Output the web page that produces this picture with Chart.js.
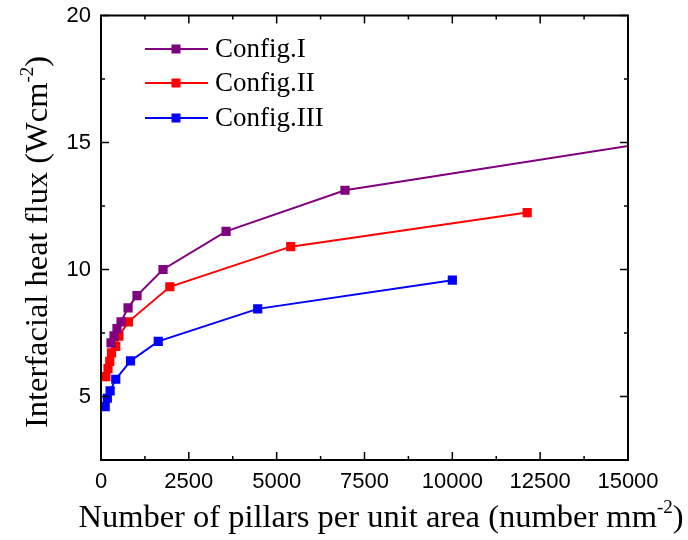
<!DOCTYPE html>
<html>
<head>
<meta charset="utf-8">
<script src="https://cdn.jsdelivr.net/npm/chart.js@4.4.1/dist/chart.umd.min.js"></script>
<style>
  html, body { margin: 0; padding: 0; background: #fff; }
  #wrap { width: 688px; height: 540px; }
</style>
</head>
<body>
<div id="wrap"><canvas id="flux-chart" width="688" height="540"></canvas></div>
<script>
// pillar density (number mm^-2) vs interfacial heat flux (W cm^-2)
const config1X = [285, 370, 455, 570, 770, 1025, 1765, 3560, 6945, 16000];
const config1Y = [7.11, 7.39, 7.67, 7.94, 8.49, 8.97, 10.0, 11.5, 13.12, 15.08];
const config2X = [140, 200, 250, 300, 420, 510, 780, 1960, 5400, 12130];
const config2Y = [5.78, 6.1, 6.38, 6.72, 6.97, 7.38, 7.94, 9.32, 10.9, 12.24];
const config3X = [120, 180, 260, 420, 840, 1630, 4460, 10000];
const config3Y = [4.6, 4.93, 5.22, 5.68, 6.4, 7.17, 8.45, 9.58];

const seriesNames = ['Config.I', 'Config.II', 'Config.III'];
const seriesColors = ['#800080', '#ff0000', '#0000ff'];

const xTicks = [0, 2500, 5000, 7500, 10000, 12500, 15000];
const yTicks = [5, 10, 15, 20];
const xMinor = [1250, 3750, 6250, 8750, 11250, 13750];
const yMinor = [7.5, 12.5, 17.5];

const toPoints = (xs, ys) => xs.map((x, i) => ({ x: x, y: ys[i] }));

// frame with inward ticks, legend and axis titles
const framePlugin = {
    id: 'frame',
    afterDraw(chart) {
        const ctx = chart.ctx;
        const a = chart.chartArea;
        const xs = chart.scales.x, ys = chart.scales.y;
        ctx.save();
        ctx.strokeStyle = '#000';
        ctx.lineWidth = 2;
        ctx.strokeRect(a.left, a.top, a.right - a.left, a.bottom - a.top);

        ctx.lineWidth = 1.5;
        ctx.beginPath();
        const tickX = (v, len) => {
            const px = xs.getPixelForValue(v);
            ctx.moveTo(px, a.bottom); ctx.lineTo(px, a.bottom - len);
            ctx.moveTo(px, a.top); ctx.lineTo(px, a.top + len);
        };
        const tickY = (v, len) => {
            const py = ys.getPixelForValue(v);
            ctx.moveTo(a.left, py); ctx.lineTo(a.left + len, py);
            ctx.moveTo(a.right, py); ctx.lineTo(a.right - len, py);
        };
        xTicks.forEach(v => tickX(v, 8));
        xMinor.forEach(v => tickX(v, 4));
        yTicks.forEach(v => tickY(v, 8));
        yMinor.forEach(v => tickY(v, 4));
        ctx.stroke();

        // legend
        const rows = [49, 83, 118];
        chart.data.datasets.forEach((ds, i) => {
            const y = rows[i];
            ctx.strokeStyle = ds.borderColor;
            ctx.lineWidth = 2;
            ctx.beginPath();
            ctx.moveTo(145, y); ctx.lineTo(208, y);
            ctx.stroke();
            ctx.fillStyle = ds.borderColor;
            ctx.fillRect(176 - 4.5, y - 4.5, 9, 9);
            ctx.fillStyle = '#000';
            ctx.font = '27px "Liberation Serif", "Times New Roman", serif';
            ctx.textBaseline = 'middle';
            ctx.textAlign = 'left';
            ctx.fillText(ds.label, 215, y + 1);
        });

        // axis titles with superscripts
        const main = '32.5px "Liberation Serif", "Times New Roman", serif';
        const sup = '19px "Liberation Serif", "Times New Roman", serif';
        const drawTitle = (parts, cx, cy, rot) => {
            ctx.save();
            ctx.translate(cx, cy);
            ctx.rotate(rot);
            let total = 0;
            parts.forEach(p => { ctx.font = p.sup ? sup : main; total += ctx.measureText(p.t).width; });
            let x = -total / 2;
            ctx.fillStyle = '#000';
            ctx.textBaseline = 'alphabetic';
            ctx.textAlign = 'left';
            parts.forEach(p => {
                ctx.font = p.sup ? sup : main;
                ctx.fillText(p.t, x, p.sup ? -14 : 0);
                x += ctx.measureText(p.t).width;
            });
            ctx.restore();
        };
        drawTitle([{ t: 'Number of pillars per unit area (number mm' }, { t: '-2', sup: true }, { t: ')' }], 381, 527, 0);
        drawTitle([{ t: 'Interfacial heat flux (Wcm' }, { t: '-2', sup: true }, { t: ')' }], 47, 242, -Math.PI / 2);
        ctx.restore();
    }
};

function init() {
    const ctx = document.getElementById('flux-chart').getContext('2d');
    const tickFont = { family: '"Liberation Sans", Arial, sans-serif', size: 22 };
    window.fluxChart = new Chart(ctx, {
        type: 'line',
        data: {
            datasets: [
                { label: seriesNames[0], data: toPoints(config1X, config1Y) },
                { label: seriesNames[1], data: toPoints(config2X, config2Y) },
                { label: seriesNames[2], data: toPoints(config3X, config3Y) }
            ].map((ds, i) => Object.assign(ds, {
                borderColor: seriesColors[i],
                backgroundColor: seriesColors[i],
                borderWidth: 2,
                pointStyle: 'rect',
                pointRadius: 6.5,
                pointBorderWidth: 0,
                pointHoverRadius: 6.5,
                tension: 0
            }))
        },
        options: {
            responsive: false,
            animation: false,
            layout: { padding: { left: 0, right: 60, top: 15.5, bottom: 0 } },
            plugins: { legend: { display: false }, tooltip: { enabled: false } },
            scales: {
                x: {
                    type: 'linear',
                    min: 0,
                    max: 15000,
                    grid: { display: false, drawTicks: false },
                    border: { display: false },
                    afterBuildTicks: s => { s.ticks = xTicks.map(v => ({ value: v })); },
                    afterFit: s => { s.height = 80; s.paddingLeft = 0; s.paddingRight = 0; },
                    ticks: { font: tickFont, color: '#000', padding: 9, maxRotation: 0, callback: v => String(v) }
                },
                y: {
                    type: 'linear',
                    min: 2.5,
                    max: 20,
                    grid: { display: false, drawTicks: false },
                    border: { display: false },
                    afterBuildTicks: s => { s.ticks = yTicks.map(v => ({ value: v })); },
                    afterFit: s => { s.width = 101; s.paddingTop = 0; s.paddingBottom = 0; },
                    ticks: { font: tickFont, color: '#000', padding: 10, callback: v => String(v) }
                }
            }
        },
        plugins: [framePlugin]
    });
}

document.addEventListener('DOMContentLoaded', init);
</script>
</body>
</html>
